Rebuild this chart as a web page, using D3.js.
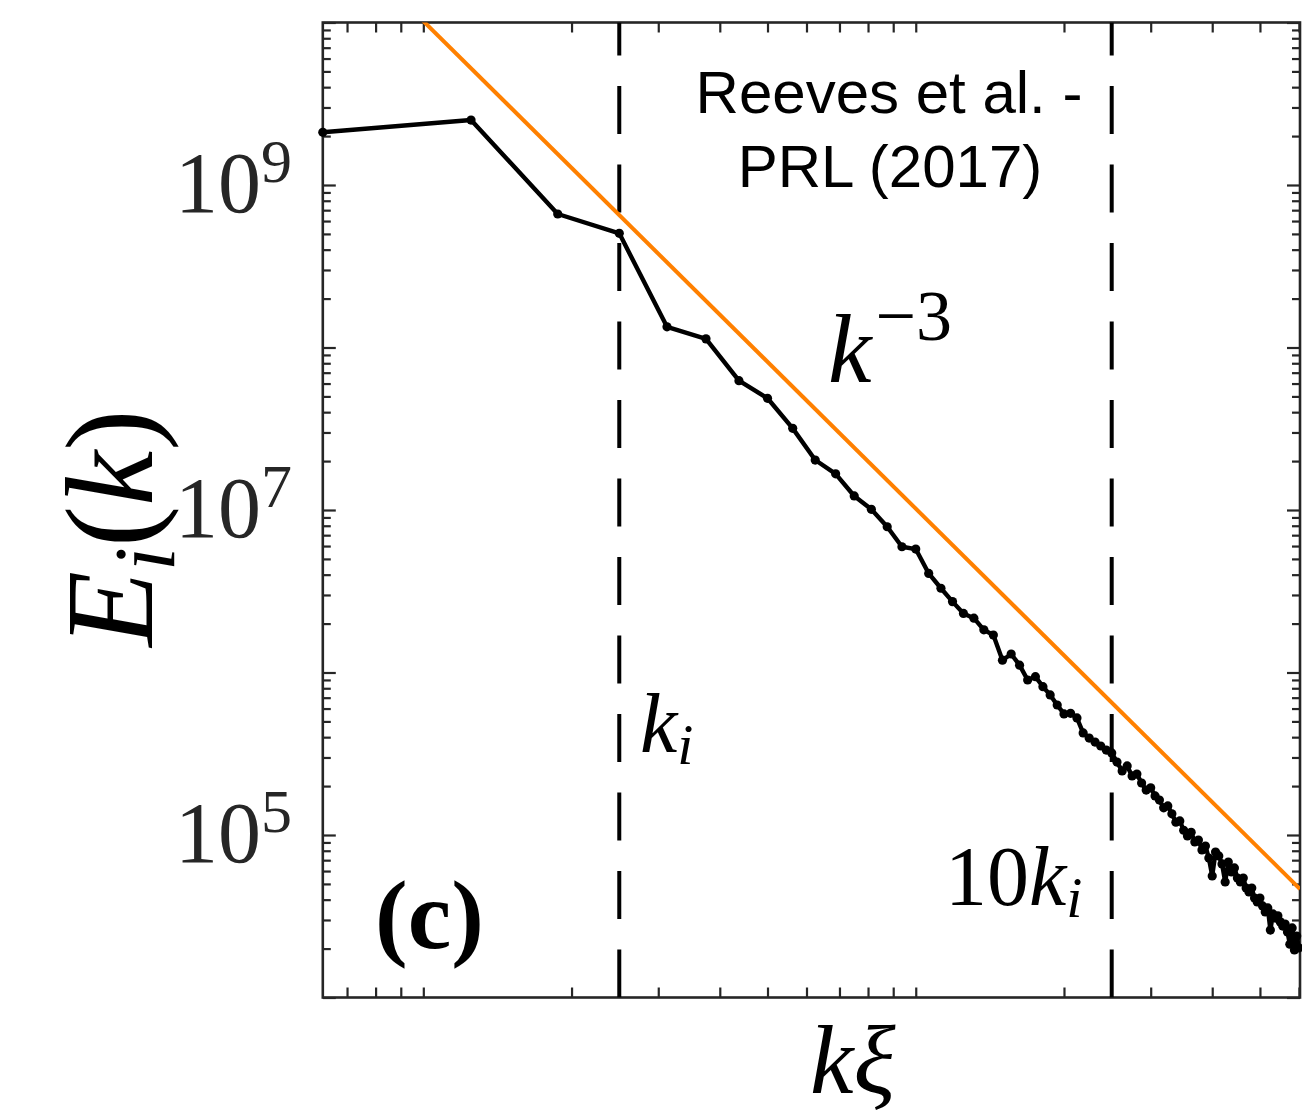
<!DOCTYPE html>
<html>
<head>
<meta charset="utf-8">
<script src="https://cdn.jsdelivr.net/npm/d3@7"></script>
<style>
  html, body { margin: 0; padding: 0; background: #fff; }
  svg { display: block; }
</style>
</head>
<body>
<svg id="chart" width="1302" height="1117"></svg>
<script>
// ---------------- data ----------------
const dk = 0.0625;                 // spectral resolution in k*xi units (k_n = n*dk)
const energy = [
  2.11e9, 2.51e9, 6.63e8, 5.04e8, 1.34e8, 1.13e8, 6.25e7, 4.87e7, 3.18e7, 2.03e7,
  1.67e7, 1.22e7, 1.01e7, 7.89e6, 5.94e6, 5.75e6, 4.07e6, 3.30e6, 2.73e6, 2.31e6,
  2.16e6, 1.83e6, 1.70e6, 1.19e6, 1.30e6, 1.11e6, 8.99e5, 9.42e5, 8.18e5, 7.28e5,
  6.31e5, 5.56e5, 5.61e5, 5.25e5, 4.25e5, 3.95e5, 3.73e5, 3.53e5, 3.33e5, 3.20e5,
  2.81e5, 2.48e5, 2.66e5, 2.31e5, 2.37e5, 2.09e5, 1.89e5, 1.95e5, 1.74e5, 1.64e5,
  1.47e5, 1.51e5, 1.35e5, 1.20e5, 1.22e5, 1.07e5, 9.86e4, 1.04e5, 9.06e4, 9.31e4,
  8.09e4, 8.55e4, 7.21e4, 5.60e4, 7.85e4, 7.43e4, 6.64e4, 5.14e4, 6.82e4, 5.92e4,
  6.27e4, 5.43e4, 5.14e4, 5.43e4, 4.72e4, 4.46e4, 4.72e4, 4.09e4, 3.87e4, 4.09e4,
  3.66e4, 3.36e4, 3.56e4, 2.60e4, 3.27e4, 3.08e4, 3.18e4, 2.92e4, 2.75e4, 2.83e4,
  2.53e4, 2.13e4, 2.68e4, 1.96e4, 2.39e4, 2.02e4
];
const xDomain = [0.0625, 6.03];
const yDomain = [1e4, 1e10];
const kMarkers = [0.25, 2.5];          // k_i and 10 k_i
const refAmp = 1.02e7;                  // reference power law  E = refAmp * k^refExp
const refExp = -3;
const yTickExps = [9, 7, 5];            // labelled decades
const annotation = ["Reeves et al. -", "PRL (2017)"];

// ---------------- layout ----------------
const L = 322.8, R = 1300, T = 22.5, B = 997.5;
const svg = d3.select("#chart");
const x = d3.scaleLog().domain(xDomain).range([L, R]);
const y = d3.scaleLog().domain(yDomain).range([B, T]);
const axisColor = "#262626";
const serif = "'Liberation Serif', 'Times New Roman', Times, serif";
const sans = "'Liberation Sans', Arial, Helvetica, sans-serif";

svg.append("defs").append("clipPath").attr("id", "clip")
  .append("rect").attr("x", L).attr("y", T).attr("width", R - L).attr("height", B - T);

// tick sets
const xMinor = [], yMinor = [], yMajor = [];
for (let e = -2; e <= 1; e++) for (let m = 1; m <= 9; m++) {
  const v = m * Math.pow(10, e);
  if (v >= xDomain[0] && v <= xDomain[1]) xMinor.push(v);
}
for (let e = 4; e <= 10; e++) {
  const v = Math.pow(10, e);
  yMajor.push(v);
  if (e < 10) for (let m = 2; m <= 9; m++) yMinor.push(m * v);
}

// axes (ticks pointing inward)
const gAx = svg.append("g");
function styleAxis(g) {
  g.select(".domain").remove();
  g.selectAll(".tick line").attr("stroke", axisColor).attr("stroke-width", 2.2);
  g.selectAll(".tick text").remove();
}
gAx.append("g").attr("transform", `translate(0,${B})`)
  .call(d3.axisBottom(x).tickValues(xMinor).tickSize(-10).tickFormat(""))
  .call(styleAxis);
gAx.append("g").attr("transform", `translate(0,${T})`)
  .call(d3.axisTop(x).tickValues(xMinor).tickSize(-10).tickFormat(""))
  .call(styleAxis);
gAx.append("g").attr("transform", `translate(${L},0)`)
  .call(d3.axisLeft(y).tickValues(yMinor).tickSize(-8).tickFormat(""))
  .call(styleAxis);
gAx.append("g").attr("transform", `translate(${L},0)`)
  .call(d3.axisLeft(y).tickValues(yMajor).tickSize(-13).tickFormat(""))
  .call(styleAxis);
gAx.append("g").attr("transform", `translate(${R},0)`)
  .call(d3.axisRight(y).tickValues(yMinor).tickSize(-8).tickFormat(""))
  .call(styleAxis);
gAx.append("g").attr("transform", `translate(${R},0)`)
  .call(d3.axisRight(y).tickValues(yMajor).tickSize(-13).tickFormat(""))
  .call(styleAxis);

// frame
svg.append("rect").attr("x", L).attr("y", T).attr("width", R - L).attr("height", B - T)
  .attr("fill", "none").attr("stroke", axisColor).attr("stroke-width", 2.6);

// y tick labels 10^n
yTickExps.forEach(e => {
  const t = svg.append("text")
    .attr("x", 292).attr("y", y(Math.pow(10, e)) + 27)
    .attr("text-anchor", "end")
    .attr("font-family", serif).attr("font-size", 86).attr("fill", "#262626");
  t.append("tspan").text("10");
  t.append("tspan").attr("font-size", 62).attr("dy", -30).text(e);
});

const plot = svg.append("g").attr("clip-path", "url(#clip)");

// dashed vertical markers (dashes start at bottom axis)
plot.selectAll("line.kmark").data(kMarkers).enter().append("line")
  .attr("class", "kmark")
  .attr("x1", d => x(d)).attr("x2", d => x(d))
  .attr("y1", B).attr("y2", T)
  .attr("stroke", "#000").attr("stroke-width", 4)
  .attr("stroke-dasharray", "48 30.5");

// spectrum
const pts = energy.map((e, i) => ({ k: (i + 1) * dk, e }));
const line = d3.line().x(d => x(d.k)).y(d => y(d.e));
plot.append("path").datum(pts)
  .attr("d", line).attr("fill", "none")
  .attr("stroke", "#000").attr("stroke-width", 4.4).attr("stroke-linejoin", "round");
svg.append("g").selectAll("circle").data(pts).enter().append("circle")
  .attr("cx", d => x(d.k)).attr("cy", d => y(d.e)).attr("r", 4.6).attr("fill", "#000");

// k^-3 reference
const refPts = xDomain.map(k => ({ k, e: refAmp * Math.pow(k, refExp) }));
plot.append("path").datum(refPts)
  .attr("d", line).attr("fill", "none")
  .attr("stroke", "#FF8000").attr("stroke-width", 4);

// annotation
const ann = svg.append("text").attr("font-family", sans).attr("font-size", 60)
  .attr("text-anchor", "middle").attr("fill", "#000");
ann.append("tspan").attr("x", 889).attr("y", 113).text(annotation[0]);
ann.append("tspan").attr("x", 890).attr("y", 187).text(annotation[1]);

// k^{-3}
const kp = svg.append("text").attr("x", 828).attr("y", 382)
  .attr("font-family", serif).attr("font-size", 98).attr("fill", "#000");
kp.append("tspan").attr("font-style", "italic").text("k");
kp.append("tspan").attr("font-size", 72).attr("dy", -42).attr("dx", 4).text("\u22123");

// k_i
const ki = svg.append("text").attr("x", 640).attr("y", 752)
  .attr("font-family", serif).attr("font-size", 84).attr("font-style", "italic").attr("fill", "#000");
ki.append("tspan").text("k");
ki.append("tspan").attr("font-size", 58).attr("dy", 12).text("i");

// 10 k_i
const tki = svg.append("text").attr("x", 945).attr("y", 905)
  .attr("font-family", serif).attr("font-size", 84).attr("fill", "#000");
tki.append("tspan").text("10");
tki.append("tspan").attr("font-style", "italic").text("k");
tki.append("tspan").attr("font-style", "italic").attr("font-size", 58).attr("dy", 12).text("i");

// (c)
svg.append("text").attr("x", 375).attr("y", 948)
  .attr("font-family", serif).attr("font-size", 98).attr("font-weight", "bold")
  .attr("fill", "#000").text("(c)");

// axis labels
const xl = svg.append("text").attr("x", 810).attr("y", 1093)
  .attr("font-family", serif).attr("font-size", 98).attr("font-style", "italic").attr("fill", "#000");
xl.append("tspan").text("k");
xl.append("tspan").text("\u03BE");

const yl = svg.append("text").attr("transform", "translate(152,528) rotate(-90)")
  .attr("text-anchor", "middle")
  .attr("font-family", serif).attr("font-size", 124).attr("fill", "#000");
yl.append("tspan").attr("font-style", "italic").text("E");
yl.append("tspan").attr("font-style", "italic").attr("font-size", 86).attr("dy", 22).text("i");
yl.append("tspan").attr("dy", -22).text("(");
yl.append("tspan").attr("font-style", "italic").text("k");
yl.append("tspan").text(")");
</script>
</body>
</html>
